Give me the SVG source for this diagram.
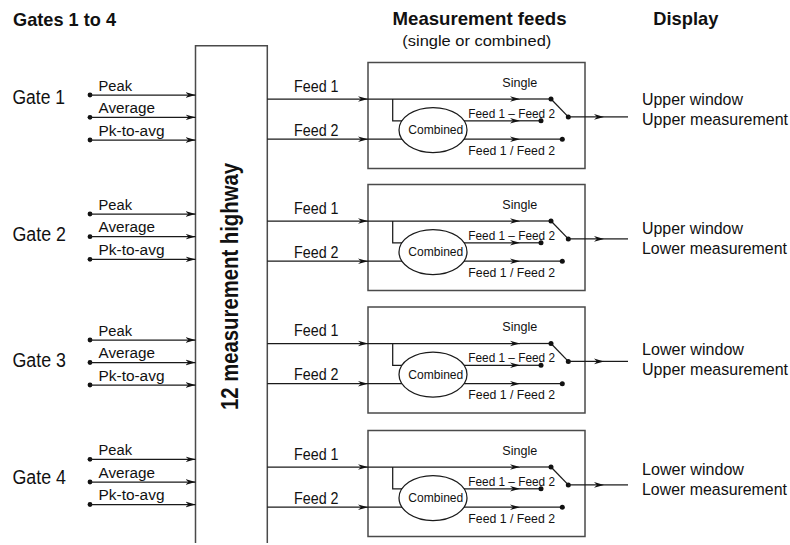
<svg xmlns="http://www.w3.org/2000/svg" width="790" height="545" viewBox="0 0 790 545">
<defs>
<marker id="arr" markerWidth="10" markerHeight="8" refX="10" refY="4" orient="auto" markerUnits="userSpaceOnUse">
<path d="M0,1.2 L10,4 L0,6.8 L3,4 Z" fill="#111"/>
</marker>
<style>
text{font-family:"Liberation Sans",Arial,sans-serif;fill:#111}
.ttl{font-weight:bold;font-size:19px}
.sub{font-size:15px}
.gate{font-size:19.5px}
.lbl{font-size:15.5px}
.fd{font-size:16px}
.sm{font-size:12.5px}
.disp{font-size:16.3px}
.hw{font-weight:bold;font-size:23px}
.ln{stroke:#1a1a1a;stroke-width:1.25;fill:none}
.box{stroke:#4a4a4a;stroke-width:1.5;fill:none}
.dot{fill:#111}
</style>
</defs>
<rect width="790" height="545" fill="#fff"/>

<g id="titles">
<text class="ttl" x="13" y="26" textLength="103" lengthAdjust="spacingAndGlyphs">Gates 1 to 4</text>
<text class="ttl" x="392.5" y="25" textLength="174" lengthAdjust="spacingAndGlyphs">Measurement feeds</text>
<text class="sub" x="402.3" y="46" textLength="149" lengthAdjust="spacingAndGlyphs">(single or combined)</text>
<text class="ttl" x="653.3" y="25" textLength="65" lengthAdjust="spacingAndGlyphs">Display</text>
</g>

<g id="highway">
<path class="box" d="M195.5,543 V45.7 H267.3 V543"/>
<text class="hw" transform="translate(237.5,286.5) rotate(-90)" text-anchor="middle" textLength="247" lengthAdjust="spacingAndGlyphs">12 measurement highway</text>
</g>

<g id="gate1">
<text class="gate" x="12.5" y="104" textLength="52.5" lengthAdjust="spacingAndGlyphs">Gate 1</text>
<text class="lbl" x="98.5" y="90.5" textLength="33.5" lengthAdjust="spacingAndGlyphs">Peak</text>
<text class="lbl" x="98.5" y="112.8" textLength="56.5" lengthAdjust="spacingAndGlyphs">Average</text>
<text class="lbl" x="98.5" y="135.5" textLength="66" lengthAdjust="spacingAndGlyphs">Pk-to-avg</text>
<circle class="dot" cx="90" cy="95" r="2.4"/><circle class="dot" cx="90" cy="117.3" r="2.4"/><circle class="dot" cx="90" cy="140" r="2.4"/>
</g>
<g id="gate2">
<text class="gate" x="12.5" y="241" textLength="53.5" lengthAdjust="spacingAndGlyphs">Gate 2</text>
<text class="lbl" x="98.5" y="209.5" textLength="33.5" lengthAdjust="spacingAndGlyphs">Peak</text>
<text class="lbl" x="98.5" y="232.2" textLength="56.5" lengthAdjust="spacingAndGlyphs">Average</text>
<text class="lbl" x="98.5" y="254.8" textLength="66" lengthAdjust="spacingAndGlyphs">Pk-to-avg</text>
<circle class="dot" cx="90" cy="214" r="2.4"/><circle class="dot" cx="90" cy="236.7" r="2.4"/><circle class="dot" cx="90" cy="259.3" r="2.4"/>
</g>
<g id="gate3">
<text class="gate" x="12.5" y="366.7" textLength="53.5" lengthAdjust="spacingAndGlyphs">Gate 3</text>
<text class="lbl" x="98.5" y="335.5" textLength="33.5" lengthAdjust="spacingAndGlyphs">Peak</text>
<text class="lbl" x="98.5" y="358" textLength="56.5" lengthAdjust="spacingAndGlyphs">Average</text>
<text class="lbl" x="98.5" y="380.5" textLength="66" lengthAdjust="spacingAndGlyphs">Pk-to-avg</text>
<circle class="dot" cx="90" cy="340" r="2.4"/><circle class="dot" cx="90" cy="362.5" r="2.4"/><circle class="dot" cx="90" cy="385" r="2.4"/>
</g>
<g id="gate4">
<text class="gate" x="12.5" y="484" textLength="53.5" lengthAdjust="spacingAndGlyphs">Gate 4</text>
<text class="lbl" x="98.5" y="454.8" textLength="33.5" lengthAdjust="spacingAndGlyphs">Peak</text>
<text class="lbl" x="98.5" y="477.5" textLength="56.5" lengthAdjust="spacingAndGlyphs">Average</text>
<text class="lbl" x="98.5" y="500" textLength="66" lengthAdjust="spacingAndGlyphs">Pk-to-avg</text>
<circle class="dot" cx="90" cy="459.3" r="2.4"/><circle class="dot" cx="90" cy="482" r="2.4"/><circle class="dot" cx="90" cy="504.5" r="2.4"/>
</g>

<g id="feedlabels">
<text class="fd" x="294" y="91.8" textLength="44.5" lengthAdjust="spacingAndGlyphs">Feed 1</text>
<text class="fd" x="294" y="135.5" textLength="44.5" lengthAdjust="spacingAndGlyphs">Feed 2</text>
<text class="fd" x="294" y="213.8" textLength="44.5" lengthAdjust="spacingAndGlyphs">Feed 1</text>
<text class="fd" x="294" y="257.5" textLength="44.5" lengthAdjust="spacingAndGlyphs">Feed 2</text>
<text class="fd" x="294" y="336.3" textLength="44.5" lengthAdjust="spacingAndGlyphs">Feed 1</text>
<text class="fd" x="294" y="380" textLength="44.5" lengthAdjust="spacingAndGlyphs">Feed 2</text>
<text class="fd" x="294" y="459.8" textLength="44.5" lengthAdjust="spacingAndGlyphs">Feed 1</text>
<text class="fd" x="294" y="503.5" textLength="44.5" lengthAdjust="spacingAndGlyphs">Feed 2</text>
</g>

<g id="feedbox1" transform="translate(0,62.5)">
<rect class="box" x="368" y="0" width="217" height="106"/>
<line class="ln" x1="368" y1="36.5" x2="520" y2="36.5" marker-end="url(#arr)"/>
<line class="ln" x1="520" y1="36.5" x2="551" y2="36.5"/>
<line class="ln" x1="551" y1="36.5" x2="568.3" y2="54.4"/>
<path class="ln" d="M392.7,36.5 V58.3 H402"/>
<ellipse class="ln" cx="433" cy="67.5" rx="34" ry="22.5"/>
<line class="ln" x1="464" y1="58.3" x2="520" y2="58.3" marker-end="url(#arr)"/>
<line class="ln" x1="520" y1="58.3" x2="541" y2="58.3"/>
<line class="ln" x1="368" y1="76.7" x2="402" y2="76.7"/>
<line class="ln" x1="464" y1="76.7" x2="520" y2="76.7" marker-end="url(#arr)"/>
<line class="ln" x1="520" y1="76.7" x2="562.3" y2="76.7"/>
<circle class="dot" cx="551" cy="36.5" r="2.5"/><circle class="dot" cx="568.3" cy="54.4" r="2.5"/>
<circle class="dot" cx="541" cy="58.3" r="2.5"/><circle class="dot" cx="562.3" cy="76.7" r="2.5"/>
<text class="sm" x="502.3" y="24.4" textLength="35" lengthAdjust="spacingAndGlyphs">Single</text>
<text class="sm" x="468.3" y="55.4" textLength="86.7" lengthAdjust="spacingAndGlyphs">Feed 1 – Feed 2</text>
<text class="sm" x="408.3" y="71.7" textLength="55" lengthAdjust="spacingAndGlyphs">Combined</text>
<text class="sm" x="468.3" y="92" textLength="86.7" lengthAdjust="spacingAndGlyphs">Feed 1 / Feed 2</text>
</g>
<g id="feedbox2" transform="translate(0,184.5)">
<rect class="box" x="368" y="0" width="217" height="106"/>
<line class="ln" x1="368" y1="36.5" x2="520" y2="36.5" marker-end="url(#arr)"/>
<line class="ln" x1="520" y1="36.5" x2="551" y2="36.5"/>
<line class="ln" x1="551" y1="36.5" x2="568.3" y2="54.4"/>
<path class="ln" d="M392.7,36.5 V58.3 H402"/>
<ellipse class="ln" cx="433" cy="67.5" rx="34" ry="22.5"/>
<line class="ln" x1="464" y1="58.3" x2="520" y2="58.3" marker-end="url(#arr)"/>
<line class="ln" x1="520" y1="58.3" x2="541" y2="58.3"/>
<line class="ln" x1="368" y1="76.7" x2="402" y2="76.7"/>
<line class="ln" x1="464" y1="76.7" x2="520" y2="76.7" marker-end="url(#arr)"/>
<line class="ln" x1="520" y1="76.7" x2="562.3" y2="76.7"/>
<circle class="dot" cx="551" cy="36.5" r="2.5"/><circle class="dot" cx="568.3" cy="54.4" r="2.5"/>
<circle class="dot" cx="541" cy="58.3" r="2.5"/><circle class="dot" cx="562.3" cy="76.7" r="2.5"/>
<text class="sm" x="502.3" y="24.4" textLength="35" lengthAdjust="spacingAndGlyphs">Single</text>
<text class="sm" x="468.3" y="55.4" textLength="86.7" lengthAdjust="spacingAndGlyphs">Feed 1 – Feed 2</text>
<text class="sm" x="408.3" y="71.7" textLength="55" lengthAdjust="spacingAndGlyphs">Combined</text>
<text class="sm" x="468.3" y="92" textLength="86.7" lengthAdjust="spacingAndGlyphs">Feed 1 / Feed 2</text>
</g>
<g id="feedbox3" transform="translate(0,307)">
<rect class="box" x="368" y="0" width="217" height="106"/>
<line class="ln" x1="368" y1="36.5" x2="520" y2="36.5" marker-end="url(#arr)"/>
<line class="ln" x1="520" y1="36.5" x2="551" y2="36.5"/>
<line class="ln" x1="551" y1="36.5" x2="568.3" y2="54.4"/>
<path class="ln" d="M392.7,36.5 V58.3 H402"/>
<ellipse class="ln" cx="433" cy="67.5" rx="34" ry="22.5"/>
<line class="ln" x1="464" y1="58.3" x2="520" y2="58.3" marker-end="url(#arr)"/>
<line class="ln" x1="520" y1="58.3" x2="541" y2="58.3"/>
<line class="ln" x1="368" y1="76.7" x2="402" y2="76.7"/>
<line class="ln" x1="464" y1="76.7" x2="520" y2="76.7" marker-end="url(#arr)"/>
<line class="ln" x1="520" y1="76.7" x2="562.3" y2="76.7"/>
<circle class="dot" cx="551" cy="36.5" r="2.5"/><circle class="dot" cx="568.3" cy="54.4" r="2.5"/>
<circle class="dot" cx="541" cy="58.3" r="2.5"/><circle class="dot" cx="562.3" cy="76.7" r="2.5"/>
<text class="sm" x="502.3" y="24.4" textLength="35" lengthAdjust="spacingAndGlyphs">Single</text>
<text class="sm" x="468.3" y="55.4" textLength="86.7" lengthAdjust="spacingAndGlyphs">Feed 1 – Feed 2</text>
<text class="sm" x="408.3" y="71.7" textLength="55" lengthAdjust="spacingAndGlyphs">Combined</text>
<text class="sm" x="468.3" y="92" textLength="86.7" lengthAdjust="spacingAndGlyphs">Feed 1 / Feed 2</text>
</g>
<g id="feedbox4" transform="translate(0,430.5)">
<rect class="box" x="368" y="0" width="217" height="106"/>
<line class="ln" x1="368" y1="36.5" x2="520" y2="36.5" marker-end="url(#arr)"/>
<line class="ln" x1="520" y1="36.5" x2="551" y2="36.5"/>
<line class="ln" x1="551" y1="36.5" x2="568.3" y2="54.4"/>
<path class="ln" d="M392.7,36.5 V58.3 H402"/>
<ellipse class="ln" cx="433" cy="67.5" rx="34" ry="22.5"/>
<line class="ln" x1="464" y1="58.3" x2="520" y2="58.3" marker-end="url(#arr)"/>
<line class="ln" x1="520" y1="58.3" x2="541" y2="58.3"/>
<line class="ln" x1="368" y1="76.7" x2="402" y2="76.7"/>
<line class="ln" x1="464" y1="76.7" x2="520" y2="76.7" marker-end="url(#arr)"/>
<line class="ln" x1="520" y1="76.7" x2="562.3" y2="76.7"/>
<circle class="dot" cx="551" cy="36.5" r="2.5"/><circle class="dot" cx="568.3" cy="54.4" r="2.5"/>
<circle class="dot" cx="541" cy="58.3" r="2.5"/><circle class="dot" cx="562.3" cy="76.7" r="2.5"/>
<text class="sm" x="502.3" y="24.4" textLength="35" lengthAdjust="spacingAndGlyphs">Single</text>
<text class="sm" x="468.3" y="55.4" textLength="86.7" lengthAdjust="spacingAndGlyphs">Feed 1 – Feed 2</text>
<text class="sm" x="408.3" y="71.7" textLength="55" lengthAdjust="spacingAndGlyphs">Combined</text>
<text class="sm" x="468.3" y="92" textLength="86.7" lengthAdjust="spacingAndGlyphs">Feed 1 / Feed 2</text>
</g>

<g id="display1">
<text class="disp" x="642" y="105" textLength="101" lengthAdjust="spacingAndGlyphs">Upper window</text>
<text class="disp" x="642" y="125" textLength="146" lengthAdjust="spacingAndGlyphs">Upper measurement</text>
</g>
<g id="display2">
<text class="disp" x="642" y="233.5" textLength="101" lengthAdjust="spacingAndGlyphs">Upper window</text>
<text class="disp" x="642" y="254" textLength="145" lengthAdjust="spacingAndGlyphs">Lower measurement</text>
</g>
<g id="display3">
<text class="disp" x="642" y="355" textLength="102" lengthAdjust="spacingAndGlyphs">Lower window</text>
<text class="disp" x="642" y="375" textLength="146" lengthAdjust="spacingAndGlyphs">Upper measurement</text>
</g>
<g id="display4">
<text class="disp" x="642" y="475" textLength="102" lengthAdjust="spacingAndGlyphs">Lower window</text>
<text class="disp" x="642" y="495" textLength="145" lengthAdjust="spacingAndGlyphs">Lower measurement</text>
</g>

<g id="connectors">
<line class="ln" x1="90" y1="95" x2="195.5" y2="95" marker-end="url(#arr)"/>
<line class="ln" x1="90" y1="117.3" x2="195.5" y2="117.3" marker-end="url(#arr)"/>
<line class="ln" x1="90" y1="140" x2="195.5" y2="140" marker-end="url(#arr)"/>
<line class="ln" x1="90" y1="214" x2="195.5" y2="214" marker-end="url(#arr)"/>
<line class="ln" x1="90" y1="236.7" x2="195.5" y2="236.7" marker-end="url(#arr)"/>
<line class="ln" x1="90" y1="259.3" x2="195.5" y2="259.3" marker-end="url(#arr)"/>
<line class="ln" x1="90" y1="340" x2="195.5" y2="340" marker-end="url(#arr)"/>
<line class="ln" x1="90" y1="362.5" x2="195.5" y2="362.5" marker-end="url(#arr)"/>
<line class="ln" x1="90" y1="385" x2="195.5" y2="385" marker-end="url(#arr)"/>
<line class="ln" x1="90" y1="459.3" x2="195.5" y2="459.3" marker-end="url(#arr)"/>
<line class="ln" x1="90" y1="482" x2="195.5" y2="482" marker-end="url(#arr)"/>
<line class="ln" x1="90" y1="504.5" x2="195.5" y2="504.5" marker-end="url(#arr)"/>

<line class="ln" x1="267.3" y1="99" x2="368" y2="99" marker-end="url(#arr)"/>
<line class="ln" x1="267.3" y1="139.2" x2="368" y2="139.2" marker-end="url(#arr)"/>
<line class="ln" x1="267.3" y1="221" x2="368" y2="221" marker-end="url(#arr)"/>
<line class="ln" x1="267.3" y1="261.2" x2="368" y2="261.2" marker-end="url(#arr)"/>
<line class="ln" x1="267.3" y1="343.5" x2="368" y2="343.5" marker-end="url(#arr)"/>
<line class="ln" x1="267.3" y1="383.7" x2="368" y2="383.7" marker-end="url(#arr)"/>
<line class="ln" x1="267.3" y1="467" x2="368" y2="467" marker-end="url(#arr)"/>
<line class="ln" x1="267.3" y1="507.2" x2="368" y2="507.2" marker-end="url(#arr)"/>

<line class="ln" x1="568.3" y1="116.9" x2="604" y2="116.9" marker-end="url(#arr)"/>
<line class="ln" x1="604" y1="116.9" x2="628" y2="116.9"/>
<line class="ln" x1="568.3" y1="238.9" x2="604" y2="238.9" marker-end="url(#arr)"/>
<line class="ln" x1="604" y1="238.9" x2="628" y2="238.9"/>
<line class="ln" x1="568.3" y1="361.4" x2="604" y2="361.4" marker-end="url(#arr)"/>
<line class="ln" x1="604" y1="361.4" x2="628" y2="361.4"/>
<line class="ln" x1="568.3" y1="484.9" x2="604" y2="484.9" marker-end="url(#arr)"/>
<line class="ln" x1="604" y1="484.9" x2="628" y2="484.9"/>
</g>
</svg>
